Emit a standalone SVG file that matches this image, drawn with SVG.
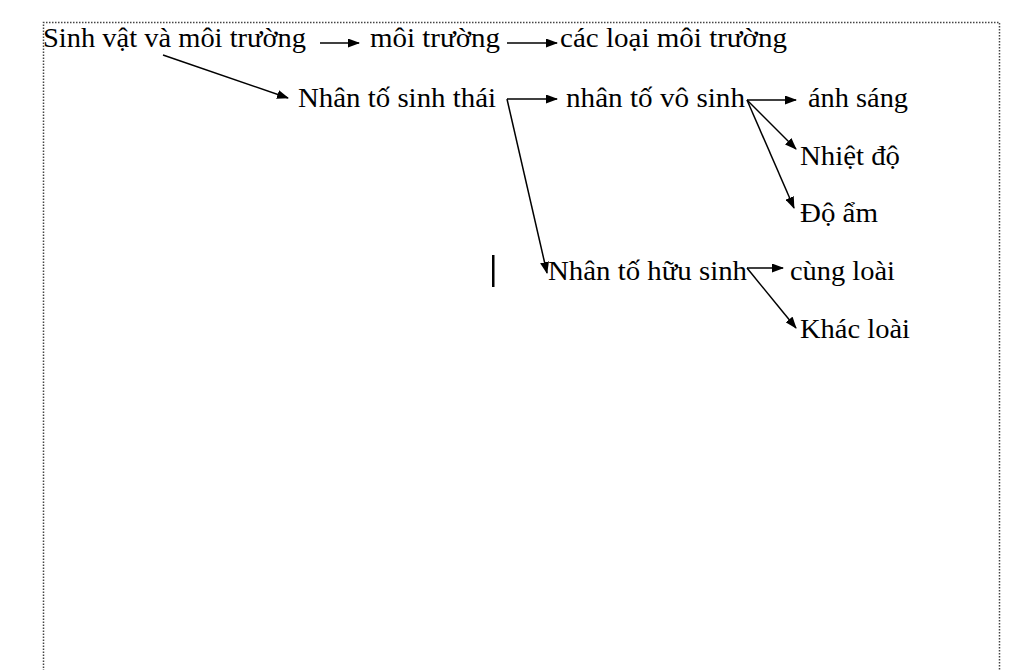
<svg xmlns="http://www.w3.org/2000/svg" width="1024" height="670" viewBox="0 0 1024 670">
<style>
text{font-family:"Liberation Serif","Times New Roman",serif;font-size:27.5px;fill:#000}
.c line{stroke:#000;stroke-width:1.5;fill:none}
</style>
<defs>
<marker id="ah" markerWidth="12" markerHeight="9" refX="11" refY="4.5" orient="auto" markerUnits="userSpaceOnUse">
<path d="M0,0 L12,4.5 L0,9 Z" fill="#000"/>
</marker>
</defs>
<rect width="1024" height="670" fill="#fff"/>
<path d="M43.5,680 V22.5 H999.5 V680" fill="none" stroke="#444" stroke-width="1.5" stroke-dasharray="1.5 1.5"/>
<g id="n1"><text x="43" y="47" textLength="263" lengthAdjust="spacingAndGlyphs">Sinh vật và môi trường</text></g>
<g id="n2"><text x="370" y="47" textLength="130" lengthAdjust="spacingAndGlyphs">môi trường</text></g>
<g id="n3"><text x="560" y="47" textLength="227" lengthAdjust="spacingAndGlyphs">các loại môi trường</text></g>
<g id="n4"><text x="298" y="107" textLength="198" lengthAdjust="spacingAndGlyphs">Nhân tố sinh thái</text></g>
<g id="n5"><text x="566" y="107" textLength="179" lengthAdjust="spacingAndGlyphs">nhân tố vô sinh</text></g>
<g id="n6"><text x="808" y="107" textLength="100" lengthAdjust="spacingAndGlyphs">ánh sáng</text></g>
<g id="n7"><text x="800" y="165" textLength="100" lengthAdjust="spacingAndGlyphs">Nhiệt độ</text></g>
<g id="n8"><text x="800" y="222" textLength="78" lengthAdjust="spacingAndGlyphs">Độ ẩm</text></g>
<g id="n9"><text x="548" y="280" textLength="199" lengthAdjust="spacingAndGlyphs">Nhân tố hữu sinh</text></g>
<g id="n10"><text x="790" y="280" textLength="105" lengthAdjust="spacingAndGlyphs">cùng loài</text></g>
<g id="n11"><text x="800" y="338" textLength="110" lengthAdjust="spacingAndGlyphs">Khác loài</text></g>
<rect x="492" y="255" width="2.5" height="32" fill="#000"/>
<g id="connectors" class="c">
<line x1="320" y1="43" x2="359" y2="43" marker-end="url(#ah)"/>
<line x1="507" y1="43" x2="557" y2="43" marker-end="url(#ah)"/>
<line x1="163" y1="55" x2="288" y2="98" marker-end="url(#ah)"/>
<line x1="507" y1="99" x2="557" y2="99" marker-end="url(#ah)"/>
<line x1="507" y1="99" x2="547" y2="273" marker-end="url(#ah)"/>
<line x1="747" y1="100" x2="796" y2="100" marker-end="url(#ah)"/>
<line x1="747" y1="100" x2="796" y2="149" marker-end="url(#ah)"/>
<line x1="747" y1="100" x2="794" y2="208" marker-end="url(#ah)"/>
<line x1="747" y1="268" x2="783" y2="268" marker-end="url(#ah)"/>
<line x1="747" y1="268" x2="796" y2="328" marker-end="url(#ah)"/>
</g>
</svg>
